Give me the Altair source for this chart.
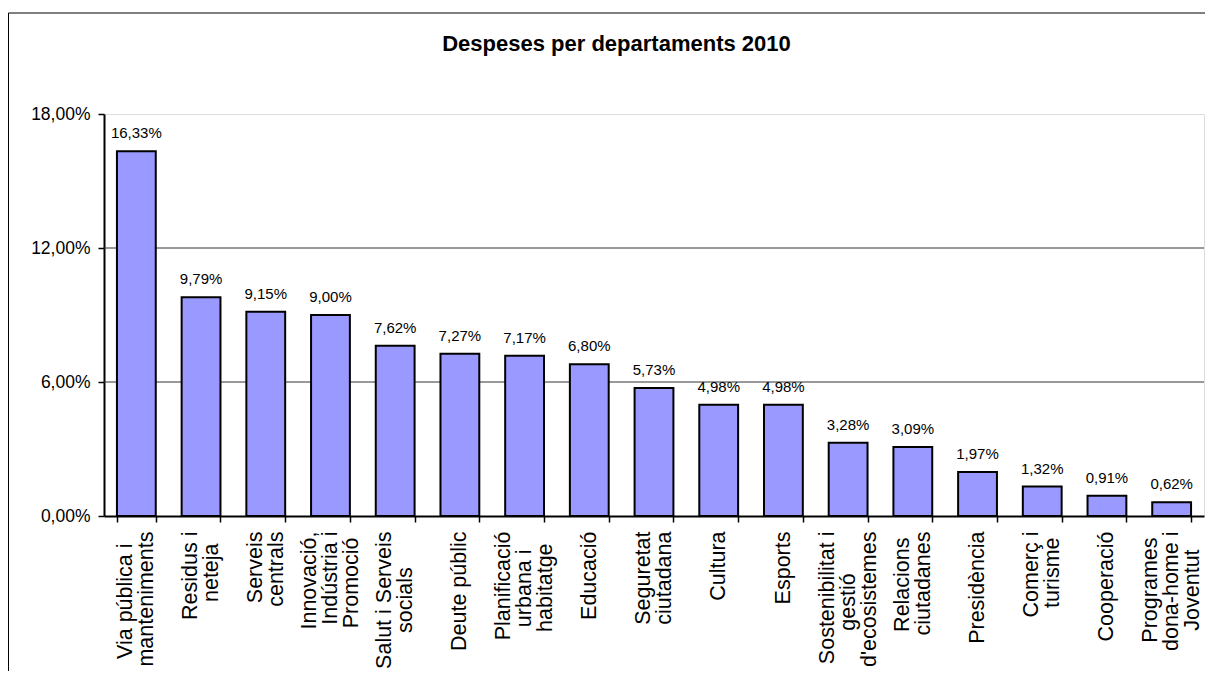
import altair as alt
import pandas as pd

categories = [
    "Via pública i|manteniments", "Residus i|neteja", "Serveis|centrals",
    "Innovació,|Indústria i|Promoció", "Salut i Serveis|socials", "Deute públic",
    "Planificació|urbana i|habitatge", "Educació", "Seguretat|ciutadana",
    "Cultura", "Esports", "Sostenibilitat i|gestió|d'ecosistemes",
    "Relacions|ciutadanes", "Presidència", "Comerç i|turisme", "Cooperació",
    "Programes|dona-home i|Joventut",
]
values = [16.33, 9.79, 9.15, 9.00, 7.62, 7.27, 7.17, 6.80, 5.73, 4.98, 4.98,
          3.28, 3.09, 1.97, 1.32, 0.91, 0.62]
y_ticks = [0, 6, 12, 18]
grid_values = [6, 12]
title_text = "Despeses per departaments 2010"

FONT = "Liberation Sans"
NB = "\u00a0"
ZW = "\u200b"
BLANK = ZW + NB + ZW

# approximate Arial advance widths, used only to centre the lines of each label
W = {' ': 278, 'a': 556, 'b': 556, 'c': 500, 'd': 556, 'e': 556, 'f': 278,
     'g': 556, 'h': 556, 'i': 222, 'j': 222, 'k': 500, 'l': 222, 'm': 833,
     'n': 556, 'o': 556, 'p': 556, 'q': 556, 'r': 333, 's': 500, 't': 278,
     'u': 556, 'v': 500, 'x': 500, 'y': 500, 'z': 500, 'ó': 556, 'ú': 556,
     'à': 556, 'è': 556, 'ç': 500, ',': 278, '-': 333, "'": 191, 'V': 667,
     'R': 722, 'S': 667, 'I': 278, 'P': 667, 'D': 722, 'E': 667, 'C': 722,
     'J': 500}


def tw(s):
    return sum(W.get(ch, 556) for ch in s)


def layout_label(label):
    lines = label.split('|')
    m = max(tw(l) for l in lines)
    padded = []
    for l in lines:
        n = int(round((m - tw(l)) / 2 / 278))
        padded.append(l + NB * n + ZW if n else l)
    # five half-line slots so that every block is centred on its band
    if len(padded) == 1:
        slots = [BLANK, BLANK, padded[0], BLANK, BLANK]
    elif len(padded) == 2:
        slots = [BLANK, padded[0], BLANK, padded[1], BLANK]
    else:
        slots = [padded[0], BLANK, padded[1], BLANK, padded[2]]
    return '|'.join(slots)


df = pd.DataFrame({
    "cat": [layout_label(c) for c in categories],
    "v": values,
})
order = list(df["cat"])
grid_df = pd.DataFrame({"g": grid_values})

x_enc = alt.X(
    "cat:N", sort=order,
    scale=alt.Scale(paddingInner=0.4, paddingOuter=0.2),
    axis=alt.Axis(
        title=None, labelAngle=-90, labelAlign="right", labelBaseline="middle",
        labelExpr="split(datum.label, '|')", labelFont=FONT, labelFontSize=21.5,
        labelLineHeight=10.5, labelOffset=-21, labelPadding=9,
        labelColor="black", labelLimit=400, labelOverlap=False,
        tickBand="extent", tickSize=6, tickColor="black", tickWidth=1.5,
        domainColor="black", domainWidth=2,
    ),
)
y_scale = alt.Scale(domain=[0, 18], nice=False)
y_enc = alt.Y(
    "v:Q", scale=y_scale,
    axis=alt.Axis(
        title=None, values=y_ticks, grid=False,
        labelExpr="replace(format(datum.value, '.2f'), '.', ',') + '%'",
        labelFont=FONT, labelFontSize=17.5, labelColor="black", labelPadding=8,
        tickSize=6, tickColor="black", tickWidth=1.5,
        domainColor="black", domainWidth=2,
    ),
)

grid = alt.Chart(grid_df).mark_rule(color="#333333", strokeWidth=1).encode(
    y=alt.Y("g:Q", scale=y_scale)
)

base = alt.Chart(df)
bars = base.mark_bar(color="#9999FF", stroke="black", strokeWidth=2).encode(
    x=x_enc, y=y_enc
)
labels = base.transform_calculate(
    txt="replace(format(datum.v, '.2f'), '.', ',') + '%'"
).mark_text(
    dy=-13, baseline="alphabetic", font=FONT, fontSize=15, color="black"
).encode(x=alt.X("cat:N", sort=order), y=alt.Y("v:Q", scale=y_scale), text="txt:N")

one = pd.DataFrame({"a": [0]})
frame_left = alt.Chart(one).mark_rule(color="black", strokeWidth=1).encode(
    x=alt.value(-95.5), y=alt.value(-101), y2=alt.value(570)
)
frame_top = alt.Chart(one).mark_rule(color="black", strokeWidth=1).encode(
    x=alt.value(-95.5), x2=alt.value(1101), y=alt.value(-101)
)

chart = alt.layer(grid, bars, labels, frame_left, frame_top).properties(
    width=1100, height=402,
    padding={"left": 96, "top": 106, "right": 1, "bottom": 155},
    autosize=alt.AutoSizeParams(type="none"),
    title=alt.TitleParams(
        title_text, font=FONT, fontSize=22, fontWeight="bold", color="black",
        anchor="middle", dx=-37.5, baseline="alphabetic", offset=-60,
    ),
).configure_view(
    stroke="#808080", strokeWidth=2
).configure(background="white")

chart.save("out.html", embed_options={"renderer": "svg", "actions": False})
